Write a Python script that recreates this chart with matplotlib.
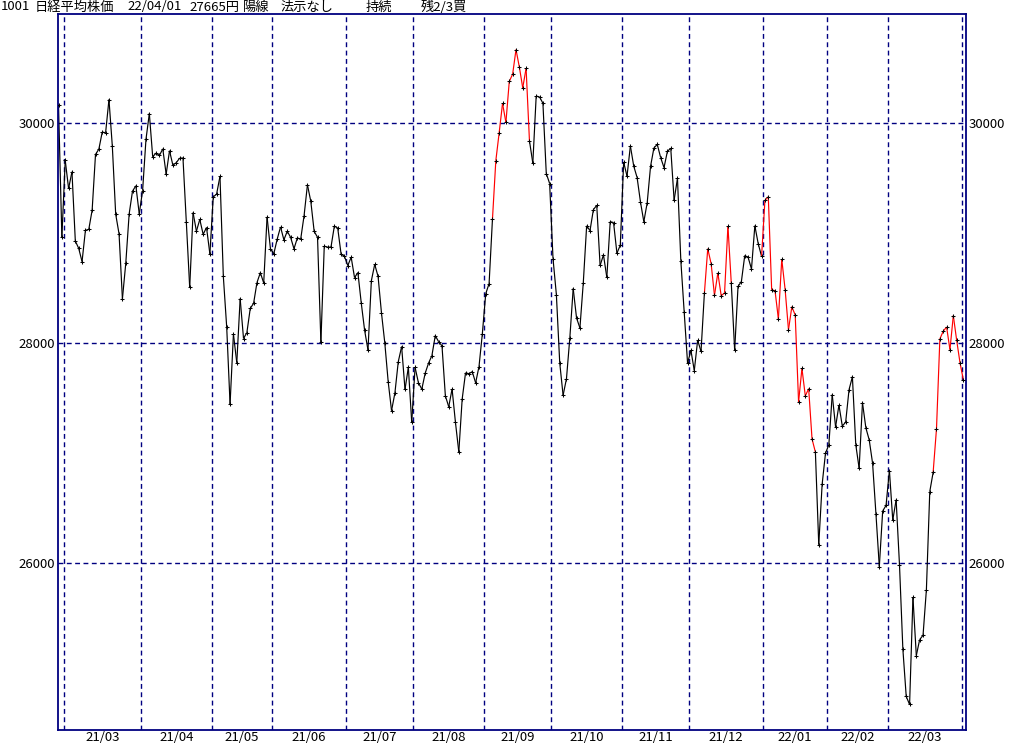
import matplotlib
matplotlib.use('Agg')
import matplotlib.pyplot as plt
from matplotlib.collections import LineCollection
import numpy as np

plt.rcParams['font.family'] = ['Noto Sans CJK JP', 'DejaVu Sans']

# daily closes, one list per month (first list = last two days of Feb 2021)
feb21 = [30168, 28966]
mar21 = [29663, 29408, 29559, 28930, 28864, 28743, 29027, 29036, 29211, 29717, 29766, 29921,
         29914, 30216, 29792, 29174, 28995, 28405, 28729, 29176, 29384, 29432, 29178]
apr21 = [29388, 29854, 30089, 29696, 29730, 29708, 29768, 29538, 29751, 29620, 29642, 29683,
         29685, 29100, 28508, 29188, 29020, 29126, 28991, 29053, 28813]
may21 = [29331, 29357, 29518, 28608, 28147, 27448, 28084, 27824, 28406, 28044, 28098, 28317,
         28364, 28553, 28642, 28549, 29149, 28860]
jun21 = [28814, 28946, 29058, 28941, 29019, 28963, 28860, 28958, 28948, 29161, 29441, 29291,
         29018, 28964, 28010, 28884, 28874, 28875, 29066, 29048, 28812, 28791]
jul21 = [28707, 28783, 28598, 28643, 28366, 28118, 27940, 28569, 28718, 28608, 28279, 28003,
         27652, 27388, 27548, 27833, 27970, 27581, 27782, 27283]
aug21 = [27781, 27641, 27584, 27728, 27820, 27888, 28070, 28015, 27977, 27523, 27424, 27585,
         27281, 27013, 27494, 27732, 27724, 27742, 27641, 27789, 28089]
sep21 = [28451, 28543, 29128, 29660, 29916, 30181, 30008, 30381, 30447, 30670, 30511, 30323,
         30500, 29840, 29639, 30248, 30240, 30183, 29544, 29453]
oct21 = [28771, 28444, 27822, 27528, 27678, 28049, 28498, 28230, 28140, 28550, 29068, 29025,
         29215, 29255, 28708, 28804, 28600, 29106, 29098, 28820, 28892]
nov21 = [29647, 29520, 29794, 29611, 29507, 29285, 29106, 29278, 29610, 29777, 29808, 29688,
         29598, 29745, 29774, 29302, 29499, 28751, 28283, 27821]
dec21 = [27935, 27753, 28029, 27927, 28455, 28860, 28725, 28437, 28640, 28432, 28459, 29066,
         28545, 27937, 28517, 28562, 28798, 28782, 28676, 29069, 28906, 28791]
jan22 = [29301, 29332, 28487, 28478, 28222, 28765, 28489, 28124, 28333, 28257, 27467, 27772,
         27522, 27588, 27131, 27011, 26170, 26717, 27001]
feb22 = [27078, 27533, 27241, 27439, 27248, 27284, 27579, 27696, 27079, 26865, 27460, 27232,
         27122, 26910, 26449, 25970, 26476, 26526]
mar22 = [26844, 26393, 26577, 25985, 25221, 24790, 24717, 25690, 25162, 25307, 25346, 25762,
         26652, 26827, 27224, 28040, 28110, 28149, 27943, 28252, 28027, 27821]
apr22 = [27665]

month_labels = ['21/03', '21/04', '21/05', '21/06', '21/07', '21/08', '21/09',
                '21/10', '21/11', '21/12', '22/01', '22/02', '22/03']
y_ticks = [26000, 28000, 30000]

# red (holding) periods, as index ranges into the daily series
red_spans = [(129, 140), (192, 200), (209, 225), (260, 269)]

months = [feb21, mar21, apr21, may21, jun21, jul21, aug21, sep21, oct21, nov21,
          dec21, jan22, feb22, mar22, apr22]
closes = np.array(sum(months, []), dtype=float)
x = np.arange(len(closes))
starts = np.cumsum([len(m) for m in months])[:-1]  # first index of Mar21 ... Apr22
vlines = starts - 0.5

navy = '#000080'
fig = plt.figure(figsize=(10.24, 7.45), dpi=100)
ax = fig.add_axes([58 / 1024, 1 - 730 / 745, 908 / 1024, 716 / 745])

for yv in y_ticks:
    ax.axhline(yv, color=navy, lw=1.0, ls=(0, (3.5, 2.5)), zorder=1)
for xv in vlines:
    ax.axvline(xv, color=navy, lw=1.0, ls=(0, (3.5, 2.5)), zorder=1)

pts = np.column_stack([x, closes])
segs = np.stack([pts[:-1], pts[1:]], axis=1)
cols = []
for i in range(len(segs)):
    red = any(a <= i < b for a, b in red_spans)
    cols.append('#ff0000' if red else 'black')
ax.add_collection(LineCollection(segs, colors=cols, linewidths=0.85, zorder=2))
ax.plot(x, closes, ls='none', marker='+', ms=3.4, mew=0.75, color='black', zorder=3)

ax.set_xlim(-0.15, 269.77)
ax.set_ylim(24485, 30994)

centers = (vlines[:-1] + vlines[1:]) / 2
ax.set_xticks(centers)
ax.set_xticklabels(month_labels, fontsize=9.5)
ax.set_yticks(y_ticks)
ax.set_yticklabels([str(v) for v in y_ticks], fontsize=9.5)
ax.tick_params(axis='x', length=0, pad=1)
ax.tick_params(axis='y', length=0, pad=2, labelright=True)

for s in ax.spines.values():
    s.set_color(navy)
    s.set_linewidth(1.3)

title_parts = [("1001", 1), ("日経平均株価", 35), ("22/04/01", 127), ("27665円", 189),
               ("陽線", 243), ("法示なし", 281), ("持続", 366), ("残2/3買", 421)]
for txt, px in title_parts:
    fig.text(px / 1024, 1 - 7 / 745, txt, ha='left', va='center', fontsize=9.5)

fig.savefig('out.png', dpi=100, facecolor='white')
